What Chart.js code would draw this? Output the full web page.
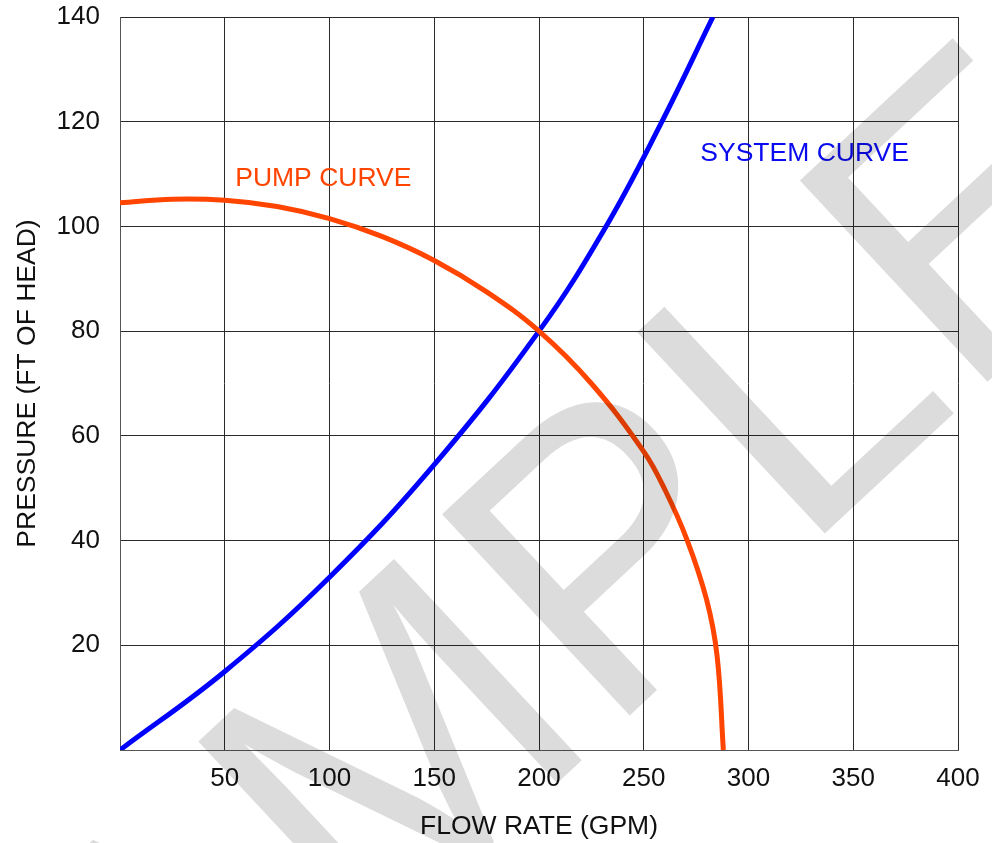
<!DOCTYPE html>
<html>
<head>
<meta charset="utf-8">
<script src="https://cdn.jsdelivr.net/npm/chart.js@4.4.1/dist/chart.umd.min.js"></script>
<style>
  html, body { margin: 0; padding: 0; background: #ffffff; }
  #wrap { width: 992px; height: 843px; }
</style>
</head>
<body>
<div id="wrap"><canvas id="c" width="992" height="843"></canvas></div>
<script>
// ---- data ----
const pumpFlow   = [0, 25, 50, 75, 100, 125, 150, 175, 200, 225, 250, 260, 270.6, 280, 285, 288];
const pumpHead   = [104.5, 105.2, 105, 103.8, 101.5, 98.1, 93.5, 87.5, 80, 70, 57, 49.8, 40.2, 28.7, 18, 0];
const systemFlow = [0, 50, 100, 150, 200, 232, 258, 283];
const systemHead = [0, 15, 33, 54.5, 80, 100, 119.5, 140];
const xTicks = [0, 50, 100, 150, 200, 250, 300, 350, 400];
const yTicks = [0, 20, 40, 60, 80, 100, 120, 140];
const curveLabels = [
  { text: 'PUMP CURVE',   x: 55,  y: 109.2, color: '#ff4500' },
  { text: 'SYSTEM CURVE', x: 277, y: 113.8, color: '#0a0af0' }
];
const xTitle = 'FLOW RATE (GPM)';
const yTitle = 'PRESSURE (FT OF HEAD)';
const watermark = 'SAMPLE';

const pts = (xs, ys) => xs.map((x, i) => ({ x: x, y: ys[i] }));
const FONT = '"Liberation Sans", Arial, Helvetica, sans-serif';

const labelPlugin = {
  id: 'curveLabels',
  afterDatasetsDraw(chart) {
    const ctx = chart.ctx, xs = chart.scales.x, ys = chart.scales.y;
    ctx.save();
    ctx.font = '26.5px ' + FONT;
    ctx.textAlign = 'left';
    ctx.textBaseline = 'middle';
    curveLabels.forEach(l => {
      ctx.fillStyle = l.color;
      ctx.fillText(l.text, xs.getPixelForValue(l.x), ys.getPixelForValue(l.y));
    });
    ctx.restore();
  }
};

const watermarkPlugin = {
  id: 'watermark',
  afterDraw(chart) {
    const ctx = chart.ctx;
    ctx.save();
    ctx.globalCompositeOperation = 'multiply';
    ctx.fillStyle = '#dcdcdc';
    ctx.font = '400px "Liberation Sans", Arial, sans-serif';
    ctx.translate(490, 695);
    ctx.rotate(-43 * Math.PI / 180);
    ctx.textAlign = 'center';
    ctx.textBaseline = 'middle';
    ctx.fillText(watermark, 0, 0);
    ctx.restore();
  }
};

new Chart(document.getElementById('c'), {
  type: 'scatter',
  data: {
    datasets: [
      {
        label: 'Pump curve',
        data: pts(pumpFlow, pumpHead),
        showLine: true,
        borderColor: '#ff4500',
        borderWidth: 5,
        pointRadius: 0,
        tension: 0.4,
        fill: false
      },
      {
        label: 'System curve',
        data: pts(systemFlow, systemHead),
        showLine: true,
        borderColor: '#0000ff',
        borderWidth: 5,
        pointRadius: 0,
        tension: 0.4,
        fill: false
      }
    ]
  },
  options: {
    responsive: false,
    animation: false,
    devicePixelRatio: 1,
    layout: { padding: { top: 17, right: 34, left: 0, bottom: 0 } },
    plugins: {
      legend: { display: false },
      tooltip: { enabled: false }
    },
    scales: {
      x: {
        type: 'linear',
        min: xTicks[0],
        max: xTicks[xTicks.length - 1],
        afterBuildTicks(s) { s.ticks = xTicks.map(v => ({ value: v })); },
        afterFit(s) { s.height = 93; s.paddingLeft = 0; s.paddingRight = 0; },
        grid: { color: '#2a2a2a', lineWidth: 1, drawTicks: false },
        border: { color: '#555', width: 1 },
        ticks: {
          padding: 13,
          color: '#111',
          font: { family: FONT, size: 26 },
          callback: v => (v === 0 ? '' : String(v))
        },
        title: {
          display: true,
          text: xTitle,
          color: '#111',
          font: { family: FONT, size: 26.5 },
          padding: { top: 18, bottom: 0 }
        }
      },
      y: {
        type: 'linear',
        min: yTicks[0],
        max: yTicks[yTicks.length - 1],
        afterBuildTicks(s) { s.ticks = yTicks.map(v => ({ value: v })); },
        afterFit(s) { s.width = 120; s.paddingTop = 0; s.paddingBottom = 0; },
        grid: { color: '#2a2a2a', lineWidth: 1, drawTicks: false },
        border: { color: '#555', width: 1 },
        ticks: {
          padding: 20,
          color: '#111',
          font: { family: FONT, size: 26 },
          callback: v => (v === 0 ? '' : String(v))
        },
        title: {
          display: true,
          text: yTitle,
          color: '#111',
          font: { family: FONT, size: 26.5 },
          padding: { top: 12, bottom: 0 }
        }
      }
    }
  },
  plugins: [labelPlugin, watermarkPlugin]
});
</script>
</body>
</html>
